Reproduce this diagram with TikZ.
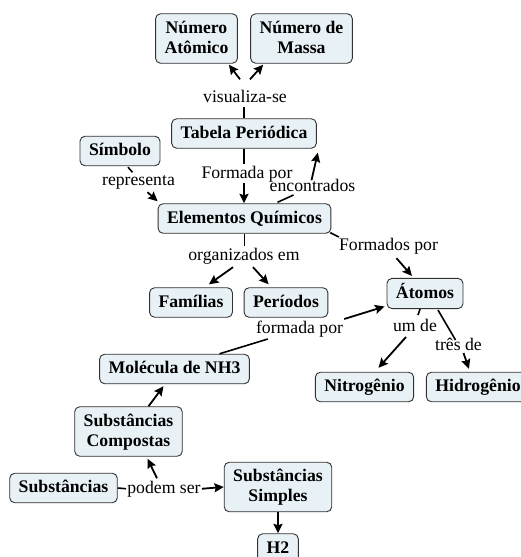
\documentclass[tikz,border=0pt]{standalone}
\usepackage{fontspec}
\setmainfont{Liberation Serif}[BoldFont={Liberation Serif Bold}]
\usetikzlibrary{arrows.meta,calc}
\definecolor{boxfill}{RGB}{232,241,245}
\definecolor{boxline}{RGB}{50,50,50}
\newcommand\cmstrut{\vrule width0pt height14.5pt depth5pt}
\begin{document}
\begin{tikzpicture}[x=1pt,y=-1pt,
  box/.style={draw=boxline, fill=boxfill, rounded corners=5pt, line width=0.9pt,
    inner xsep=9pt, inner ysep=5pt, align=center,
    font=\bfseries\fontsize{17.7}{20}\selectfont},
  lbl/.style={inner sep=1pt, text height=12.5pt, text depth=4pt,
    font=\fontsize{17.7}{20}\selectfont, anchor=base},
  ln/.style={line width=1.6pt},
  arr/.style={line width=1.8pt, -{Stealth[length=9.5pt,width=9pt,inset=1.5pt]}}]
\fill[white] (0,0) rectangle (520,557);
\useasboundingbox (0,0) rectangle (520,557);

% concept boxes
\node[box] (na)   at (196.5,38.5) {\cmstrut Número\\\cmstrut Atômico};
\node[box] (nm)   at (301.5,38.5) {\cmstrut Número de\\\cmstrut Massa};
\node[box] (tab)  at (244,133.5)  {\cmstrut Tabela Periódica};
\node[box] (sym)  at (120,151)    {\cmstrut Símbolo};
\node[box] (elem) at (244.5,218.5){\cmstrut Elementos Químicos};
\node[box] (fam)  at (191,302.5)  {\cmstrut Famílias};
\node[box] (per)  at (286,302.5)  {\cmstrut Períodos};
\node[box] (ato)  at (425,293.5)  {\cmstrut Átomos};
\node[box] (mol)  at (174.5,369)  {\cmstrut Molécula de NH3};
\node[box] (nit)  at (364.5,387)  {\cmstrut Nitrogênio};
\node[box] (hid)  at (478,387)    {\cmstrut Hidrogênio};
\node[box] (comp) at (128.5,431.5){\cmstrut Substâncias\\\cmstrut Compostas};
\node[box] (sub)  at (63.5,488)   {\cmstrut Substâncias};
\node[box] (simp) at (278,487)    {\cmstrut Substâncias\\\cmstrut Simples};
\node[box] (h2)   at (278,548.5)  {\cmstrut H2};

% linking phrases
\node[lbl] (vis)   at (245,102)   {visualiza-se};
\node[lbl] (form1) at (247,178)   {Formada por};
\node[lbl] (enc)   at (312.5,191) {encontrados};
\node[lbl] (rep)   at (138.5,185) {representa};
\node[lbl] (org)   at (244,260)   {organizados em};
\node[lbl] (fpor)  at (388.5,250) {Formados por};
\node[lbl] (fmp)   at (299.5,333) {formada por};
\node[lbl] (umde)  at (415,331)   {um de};
\node[lbl] (tres)  at (458.5,350) {três de};
\node[lbl] (pod)   at (164,493)   {podem ser};

% Tabela -> visualiza-se -> Numero
\draw[ln] (tab.north) -- (vis.south -| tab.north);
\draw[arr] ($(vis.north)+(-5,-9)$) -- ($(na.south east)+(-9,1)$);
\draw[arr] ($(vis.north)+(5,-9)$) -- ($(nm.south west)+(13,1)$);

% Tabela -> Formada por -> Elementos
\draw[ln] (tab.south) -- (form1.north -| tab.south);
\draw[arr] (form1.south -| tab.south) -- (elem.north -| tab.south);

% Elementos -> encontrados -> Tabela
\draw[ln] ($(elem.north)+(33,-1)$) -- ($(enc.base)+(-19,4)$);
\draw[arr] ($(enc.north)+(-1,3)$) -- ($(tab.south east)+(1,4)$);

% Simbolo -> representa -> Elementos
\draw[ln] ($(sym.south)+(8,1)$) -- ($(rep.north)+(-6,1)$);
\draw[arr] ($(rep.south)+(9,2)$) -- ($(elem.north west)+(0,-2)$);

% Elementos -> organizados em -> Familias, Periodos
\draw[ln] (elem.south) -- (org.north -| elem.south);
\draw[arr] ($(org.south)+(-11,2)$) -- ($(fam.north east)+(-24,-3)$);
\draw[arr] ($(org.south)+(9,2)$) -- ($(per.north west)+(25,-3)$);

% Elementos -> Formados por -> Atomos
\draw[ln] ($(elem.south east)+(-1,-1)$) -- ($(fpor.base west)+(1,-13)$);
\draw[arr] ($(fpor.south)+(8,3)$) -- ($(ato.north)+(-13,-2)$);

% Molecula -> formada por -> Atomos
\draw[ln] ($(mol.north)+(45,0)$) -- ($(fmp.base west)+(13,6)$);
\draw[arr] ($(fmp.base east)+(0,-14)$) -- ($(ato.west)+(-2,13)$);

% Atomos -> um de -> Nitrogenio ; tres de -> Hidrogenio
\draw[ln] ($(ato.south)+(-5,0)$) -- ($(umde.base)+(3,-16)$);
\draw[arr] ($(umde.base)+(-9,6)$) -- ($(nit.north)+(14,-4)$);
\draw[ln] ($(ato.south)+(13,1)$) -- ($(tres.base)+(-3,-10)$);
\draw[arr] ($(tres.base)+(5,3)$) -- ($(hid.north west)+(43,-3)$);

% Substancias -> podem ser -> Simples, Compostas
\draw[ln] (sub.east) -- (pod.west);
\draw[arr] (pod.east) -- (simp.west);
\draw[arr] ($(pod.north)+(-7,-1)$) -- ($(comp.south)+(19,2)$);

% Compostas -> Molecula ; Simples -> H2
\draw[arr] ($(comp.north)+(20,0)$) -- ($(mol.south)+(-11,2)$);
\draw[arr] (simp.south) -- (h2.north);
\end{tikzpicture}
\end{document}
